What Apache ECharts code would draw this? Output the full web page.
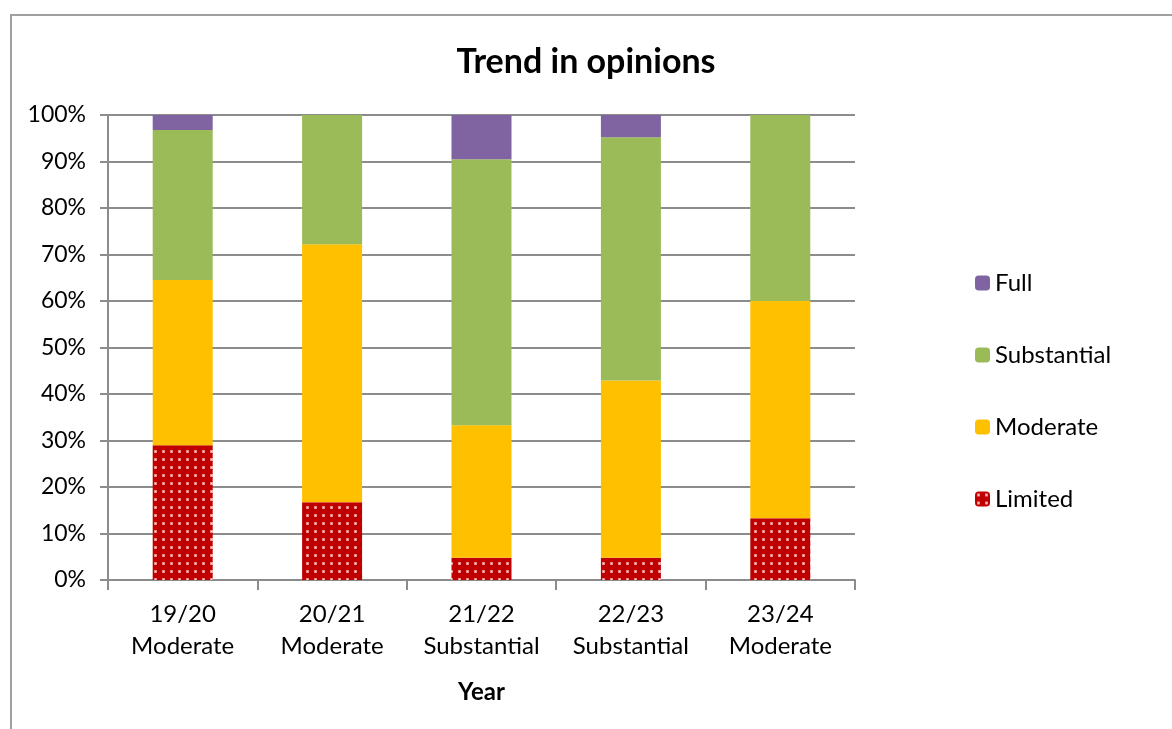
<!DOCTYPE html>
<html>
<head>
<meta charset="utf-8">
<script src="https://cdn.jsdelivr.net/npm/echarts@6/dist/echarts.min.js"></script>
<style>
  html, body { margin: 0; padding: 0; background: #fff; }
  #main { width: 1172px; height: 729px; }
</style>
</head>
<body>
<div id="main"></div>
<script>
var years = ['19/20\nModerate', '20/21\nModerate', '21/22\nSubstantial', '22/23\nSubstantial', '23/24\nModerate'];
var limited = [29.0, 16.7, 4.8, 4.8, 13.3];
var moderate = [35.5, 55.5, 28.5, 38.1, 46.7];
var substantial = [32.3, 27.8, 57.2, 52.3, 40.0];
var full = [3.2, 0, 9.5, 4.8, 0];

// red with white dots, like the office pattern fill
function dotPattern() {
  var c = document.createElement('canvas');
  c.width = 8; c.height = 8;
  var ctx = c.getContext('2d');
  ctx.fillStyle = '#C00000';
  ctx.fillRect(0, 0, 8, 8);
  ctx.fillStyle = '#e88888';
  ctx.fillRect(2, 2, 3, 3);
  ctx.fillStyle = '#ffeaea';
  ctx.fillRect(3, 3, 1, 1);
  return c;
}

var font = 'Lato, "Open Sans", sans-serif';
var myChart = echarts.init(document.getElementById('main'));

var option = {
  animation: false,
  textStyle: { fontFamily: font },
  title: {
    text: 'Trend in opinions',
    left: 'center',
    top: 40,
    textStyle: { fontSize: 34, fontWeight: 'bold', color: '#000', fontFamily: font }
  },
  graphic: [{
    type: 'rect',
    shape: { x: 11, y: 15, width: 1200, height: 800 },
    style: { fill: 'none', stroke: '#a0a0a0', lineWidth: 2 }
  }],
  legend: {
    orient: 'vertical',
    left: 970,
    top: 266,
    itemGap: 48,
    itemWidth: 15,
    itemHeight: 15,
    data: ['Full', 'Substantial', 'Moderate', 'Limited'],
    textStyle: { fontSize: 24, color: '#000', fontFamily: font }
  },
  grid: { left: 108, right: 317, top: 115, bottom: 149 },
  xAxis: {
    type: 'category',
    data: years,
    name: 'Year',
    nameLocation: 'middle',
    nameGap: 100,
    nameTextStyle: { fontSize: 24, fontWeight: 'bold', color: '#000', fontFamily: font },
    axisLine: { lineStyle: { color: '#8c8c8c', width: 2 } },
    axisTick: { show: true, length: 10, lineStyle: { color: '#8c8c8c', width: 2 } },
    axisLabel: { interval: 0, hideOverlap: false, fontSize: 24, color: '#000', lineHeight: 32, margin: 18, fontFamily: font }
  },
  yAxis: {
    type: 'value',
    min: 0,
    max: 100,
    interval: 10,
    axisLine: { show: true, lineStyle: { color: '#8c8c8c', width: 2 } },
    axisTick: { show: true, length: 8, lineStyle: { color: '#8c8c8c', width: 2 } },
    splitLine: { lineStyle: { color: '#8c8c8c', width: 2 } },
    axisLabel: { formatter: '{value}%', fontSize: 23, color: '#000', margin: 22, fontFamily: font }
  },
  series: [
    { name: 'Limited', type: 'bar', stack: 'a', barWidth: 60, data: limited,
      itemStyle: { color: { image: dotPattern(), repeat: 'repeat' } } },
    { name: 'Moderate', type: 'bar', stack: 'a', barWidth: 60, data: moderate,
      itemStyle: { color: '#FFC000' } },
    { name: 'Substantial', type: 'bar', stack: 'a', barWidth: 60, data: substantial,
      itemStyle: { color: '#9BBB59' } },
    { name: 'Full', type: 'bar', stack: 'a', barWidth: 60, data: full,
      itemStyle: { color: '#8064A2' } }
  ]
};

myChart.setOption(option);
</script>
</body>
</html>
